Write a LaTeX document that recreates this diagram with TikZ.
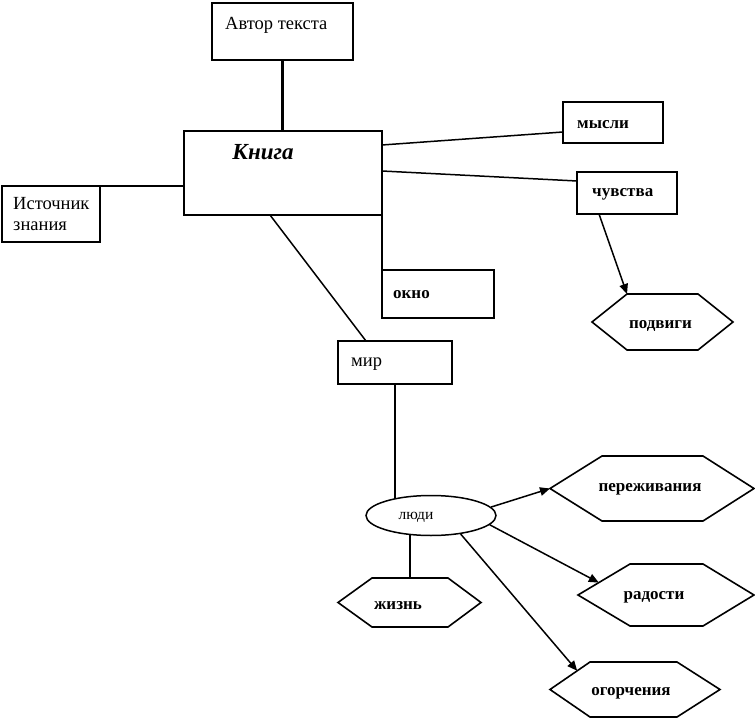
\documentclass[tikz,border=0pt]{standalone}
\usepackage{fontspec}
\setmainfont{Liberation Serif}
\usetikzlibrary{shapes.geometric,arrows.meta,calc}
\pgfdeclarelayer{bg}
\pgfsetlayers{bg,main}
\begin{document}
\begin{tikzpicture}[x=1pt,y=-1pt,
  box/.style={draw, line width=1.5pt, inner sep=0pt, outer sep=0pt},
  thickbox/.style={box, line width=2.4pt},
  hexnode/.style={inner sep=0pt, outer sep=0pt},
  hexline/.style={line width=1.6pt, line join=miter},
  txt/.style={inner sep=0pt, anchor=west, yshift=-2.5pt, font=\fontsize{18.5}{21}\selectfont},
  txtb/.style={inner sep=0pt, anchor=west, yshift=-2.5pt, font=\bfseries\fontsize{17}{20}\selectfont},
  hextxt/.style={inner sep=0pt, yshift=-2.5pt, font=\bfseries\fontsize{17}{20}\selectfont},
  conn/.style={line width=1.5pt},
  thickconn/.style={line width=2.6pt},
  arr/.style={conn, -{Triangle[length=10pt,width=8.5pt]}}]
\useasboundingbox (0,0) rectangle (755,719);

% boxes
\node[thickbox, minimum width=141pt, minimum height=57pt] (avtor) at (282.5,31.5) {};
\node[txt] (tavtor) at (225,23) {Автор текста};

\node[box, minimum width=198pt, minimum height=84pt] (kniga) at (283,173) {};
\node[inner sep=0pt, font=\bfseries\itshape\fontsize{23}{27}\selectfont] (tkniga) at (263,152) {Книга};

\node[thickbox, minimum width=98pt, minimum height=56pt] (ist) at (51,214) {};
\node[txt, align=left, anchor=north west] (tist) at (13,194.5) {Источник\\знания};

\node[thickbox, minimum width=112pt, minimum height=48pt] (okno) at (438,294) {};
\node[txtb] (tokno) at (393,292) {окно};

\node[box, minimum width=100pt, minimum height=41pt] (mysli) at (613,122.5) {};
\node[txtb] (tmysli) at (577,122) {мысли};

\node[box, minimum width=100pt, minimum height=42pt] (chuv) at (627,193) {};
\node[txtb] (tchuv) at (592,192) {чувства};

\node[box, minimum width=114pt, minimum height=43pt] (mir) at (395,362.5) {};
\node[txt] (tmir) at (351,362) {мир};

\node[draw, ellipse, line width=1.5pt, fill=white, minimum width=130pt, minimum height=40pt, inner sep=0pt] (ludi) at (431,515.5) {};
\node[inner sep=0pt, yshift=-1.5pt, font=\fontsize{15.5}{18}\selectfont] (tludi) at (416,516) {люди};

% hexagons
\node[hexnode, minimum width=71pt, minimum height=56pt] (pod) at (662.5,322) {};
\draw[hexline] (pod.north west) -- (pod.north east) -- ([xshift=35pt]pod.east) -- (pod.south east) -- (pod.south west) -- ([xshift=-35pt]pod.west) coordinate (podL) -- cycle;
\node[hextxt] (tpod) at (660.5,323) {подвиги};

\node[hexnode, minimum width=101pt, minimum height=65pt] (per) at (652.5,488.5) {};
\draw[hexline] (per.north west) -- (per.north east) -- ([xshift=51pt]per.east) -- (per.south east) -- (per.south west) -- ([xshift=-52pt]per.west) coordinate (perL) -- cycle;
\node[hextxt] (tper) at (650,487) {переживания};

\node[hexnode, minimum width=73pt, minimum height=62pt] (rad) at (666.5,595) {};
\draw[hexline] (rad.north west) -- (rad.north east) -- ([xshift=51pt]rad.east) -- (rad.south east) -- (rad.south west) -- ([xshift=-52pt]rad.west) coordinate (radL) -- cycle;
\node[hextxt] (trad) at (654,595) {радости};

\node[hexnode, minimum width=87pt, minimum height=55pt] (ogo) at (633.5,689.5) {};
\draw[hexline] (ogo.north west) -- (ogo.north east) -- ([xshift=43pt]ogo.east) -- (ogo.south east) -- (ogo.south west) -- ([xshift=-40pt]ogo.west) coordinate (ogoL) -- cycle;
\node[hextxt] (togo) at (631,691) {огорчения};

\node[hexnode, minimum width=76pt, minimum height=49pt] (zh) at (410,602.5) {};
\draw[hexline] (zh.north west) -- (zh.north east) -- ([xshift=33pt]zh.east) -- (zh.south east) -- (zh.south west) -- ([xshift=-34pt]zh.west) coordinate (zhL) -- cycle;
\node[hextxt] (tzh) at (398,603) {жизнь};

% connectors
\draw[thickconn] (avtor.south) -- (avtor.south |- kniga.north);
\draw[conn] (ist.north east) -- (ist.north east -| kniga.west);
\draw[thickconn] (kniga.north east) -- (kniga.north east |- okno.north);
\draw[conn] ([yshift=-14pt]kniga.north east) -- ([yshift=-9.5pt]mysli.west);
\draw[conn] ([yshift=-40pt]kniga.north east) -- ([yshift=12pt]chuv.west);
\draw[arr] ([xshift=22pt]chuv.south west) -- (pod.north west);
\draw[conn] ([xshift=-13pt]kniga.south) -- ([xshift=-29pt]mir.north);
\begin{pgfonlayer}{bg}
\draw[thickconn] (mir.south) -- (mir.south |- ludi.center);
\draw[thickconn] (zh.north) -- (zh.north |- ludi.center);
\end{pgfonlayer}
\draw[arr] (ludi.8) -- (perL);
\draw[arr] (ludi.-9) -- ($(radL)!0.4!(rad.north west)$);
\draw[arr] (ludi.-32) -- ($(ogoL)!0.68!(ogo.north west)$);
\end{tikzpicture}
\end{document}
